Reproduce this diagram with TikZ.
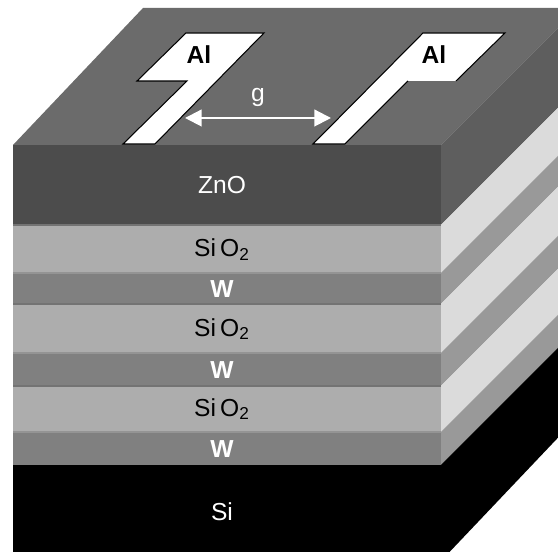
\documentclass[tikz,border=0pt]{standalone}
\usepackage{fontspec}
\setmainfont{Liberation Sans}
\usetikzlibrary{calc,arrows.meta}

\definecolor{topgray}{gray}{0.42}
\definecolor{zno}{gray}{0.30}
\definecolor{znoside}{gray}{0.37}
\definecolor{oxide}{gray}{0.68}
\definecolor{oxideside}{gray}{0.86}
\definecolor{tungsten}{gray}{0.50}
\definecolor{tungstenside}{gray}{0.60}

\tikzset{
  whitelabel/.style={text=white,font=\fontsize{14}{14}\selectfont},
  blacklabel/.style={text=black,font=\fontsize{14}{14}\selectfont},
  padlabel/.style={text=black,font=\fontsize{14}{14}\selectfont\bfseries},
  padedge/.style={draw=black,line width=0.6pt,line join=miter},
  darkseam/.style={draw=black!55,line width=0.6pt},
  lightseam/.style={draw=black!42,line width=0.6pt}
}

\begin{document}
\begin{tikzpicture}[scale=2]
       \useasboundingbox (0,0) rectangle (5.58,5.52);
       \clip (0,0) rectangle (5.58,5.52);

       \coordinate (Off) at (1.3,1.3);
       \coordinate (OffBack) at (1.3,1.37);

       \coordinate (L0) at (0.13,4.07);
       \coordinate (L1) at (0.13,3.27);
       \coordinate (L2) at (0.13,2.79);
       \coordinate (L3) at (0.13,2.48);
       \coordinate (L4) at (0.13,1.99);
       \coordinate (L5) at (0.13,1.66);
       \coordinate (L6) at (0.13,1.20);
       \coordinate (L7) at (0.13,0.87);
       \coordinate (L8) at (0.13,-0.09);

       \coordinate (R0) at (4.41,4.07);
       \coordinate (R1) at (4.41,3.27);
       \coordinate (R2) at (4.41,2.79);
       \coordinate (R3) at (4.41,2.48);
       \coordinate (R4) at (4.41,1.99);
       \coordinate (R5) at (4.41,1.66);
       \coordinate (R6) at (4.41,1.20);
       \coordinate (R7) at (4.41,0.87);
       \coordinate (R8) at (4.41,-0.09);

       % top face
       \fill[topgray] (L0) -- (R0) -- ($(R0)+(Off)$) -- ($(R0)+(OffBack)$) -- ($(L0)+(OffBack)$) -- cycle;

       % front layers
       \fill[zno] (L0) rectangle (R1);
       \fill[oxide] (L1) rectangle (R2);
       \fill[tungsten] (L2) rectangle (R3);
       \fill[oxide] (L3) rectangle (R4);
       \fill[tungsten] (L4) rectangle (R5);
       \fill[oxide] (L5) rectangle (R6);
       \fill[tungsten] (L6) rectangle (R7);
       \fill[black] (L7) rectangle (R8);

       % seams between the front layers
       \draw[darkseam] (L1) -- (R1);
       \draw[lightseam] (L2) -- (R2);
       \draw[darkseam] (L3) -- (R3);
       \draw[lightseam] (L4) -- (R4);
       \draw[darkseam] (L5) -- (R5);
       \draw[lightseam] (L6) -- (R6);

       % side layers
       \fill[znoside] (R0) -- (R1) -- ($(R1)+(Off)$) -- ($(R0)+(Off)$) -- cycle;
       \fill[oxideside] (R1) -- (R2) -- ($(R2)+(Off)$) -- ($(R1)+(Off)$) -- cycle;
       \fill[tungstenside] (R2) -- (R3) -- ($(R3)+(Off)$) -- ($(R2)+(Off)$) -- cycle;
       \fill[oxideside] (R3) -- (R4) -- ($(R4)+(Off)$) -- ($(R3)+(Off)$) -- cycle;
       \fill[tungstenside] (R4) -- (R5) -- ($(R5)+(Off)$) -- ($(R4)+(Off)$) -- cycle;
       \fill[oxideside] (R5) -- (R6) -- ($(R6)+(Off)$) -- ($(R5)+(Off)$) -- cycle;
       \fill[tungstenside] (R6) -- (R7) -- ($(R7)+(Off)$) -- ($(R6)+(Off)$) -- cycle;
       \fill[black] (R7) -- (R8) -- ($(R8)+(OffBack)$) -- ($(R7)+(Off)$) -- cycle;

       % left pad
       \filldraw[fill=white,padedge] (1.86,5.19) -- (2.64,5.19) -- (1.55,4.08) -- (1.23,4.08)
            -- (1.87,4.71) -- (1.37,4.71) -- cycle;

       % right pad
       \fill[white] (4.23,5.19) -- (5.05,5.19) -- (4.56,4.71) -- (4.08,4.71) -- (3.45,4.08) -- (3.13,4.08) -- cycle;
       \draw[padedge] (4.08,4.71) -- (3.45,4.08) -- (3.13,4.08) -- (4.23,5.19) -- (5.05,5.19) -- (4.56,4.71);

       \node[padlabel] (AlLeft) at (1.99,4.97) {Al};
       \node[padlabel] (AlRight) at (4.34,4.97) {Al};

       \coordinate (GapL) at (1.85,4.34);
       \coordinate (GapR) at (3.31,4.34);
       \draw[white,line width=1.2pt,{Triangle[length=9.5pt,width=9.5pt]}-{Triangle[length=9.5pt,width=9.5pt]}] (GapL) -- (GapR);
       \node[whitelabel] (gap) at (2.58,4.55) {g};

       \node[whitelabel] (ZnOlbl) at (2.22,3.67) {ZnO};
       \node[blacklabel] (Ox1lbl) at (2.22,3.02) {Si\,O\textsubscript{2}};
       \node[whitelabel] (W1lbl) at (2.22,2.63) {\bfseries W};
       \node[blacklabel] (Ox2lbl) at (2.22,2.23) {Si\,O\textsubscript{2}};
       \node[whitelabel] (W2lbl) at (2.22,1.82) {\bfseries W};
       \node[blacklabel] (Ox3lbl) at (2.22,1.43) {Si\,O\textsubscript{2}};
       \node[whitelabel] (W3lbl) at (2.22,1.03) {\bfseries W};
       \node[whitelabel] (Silbl) at (2.22,0.40) {Si};
\end{tikzpicture}
\end{document}
